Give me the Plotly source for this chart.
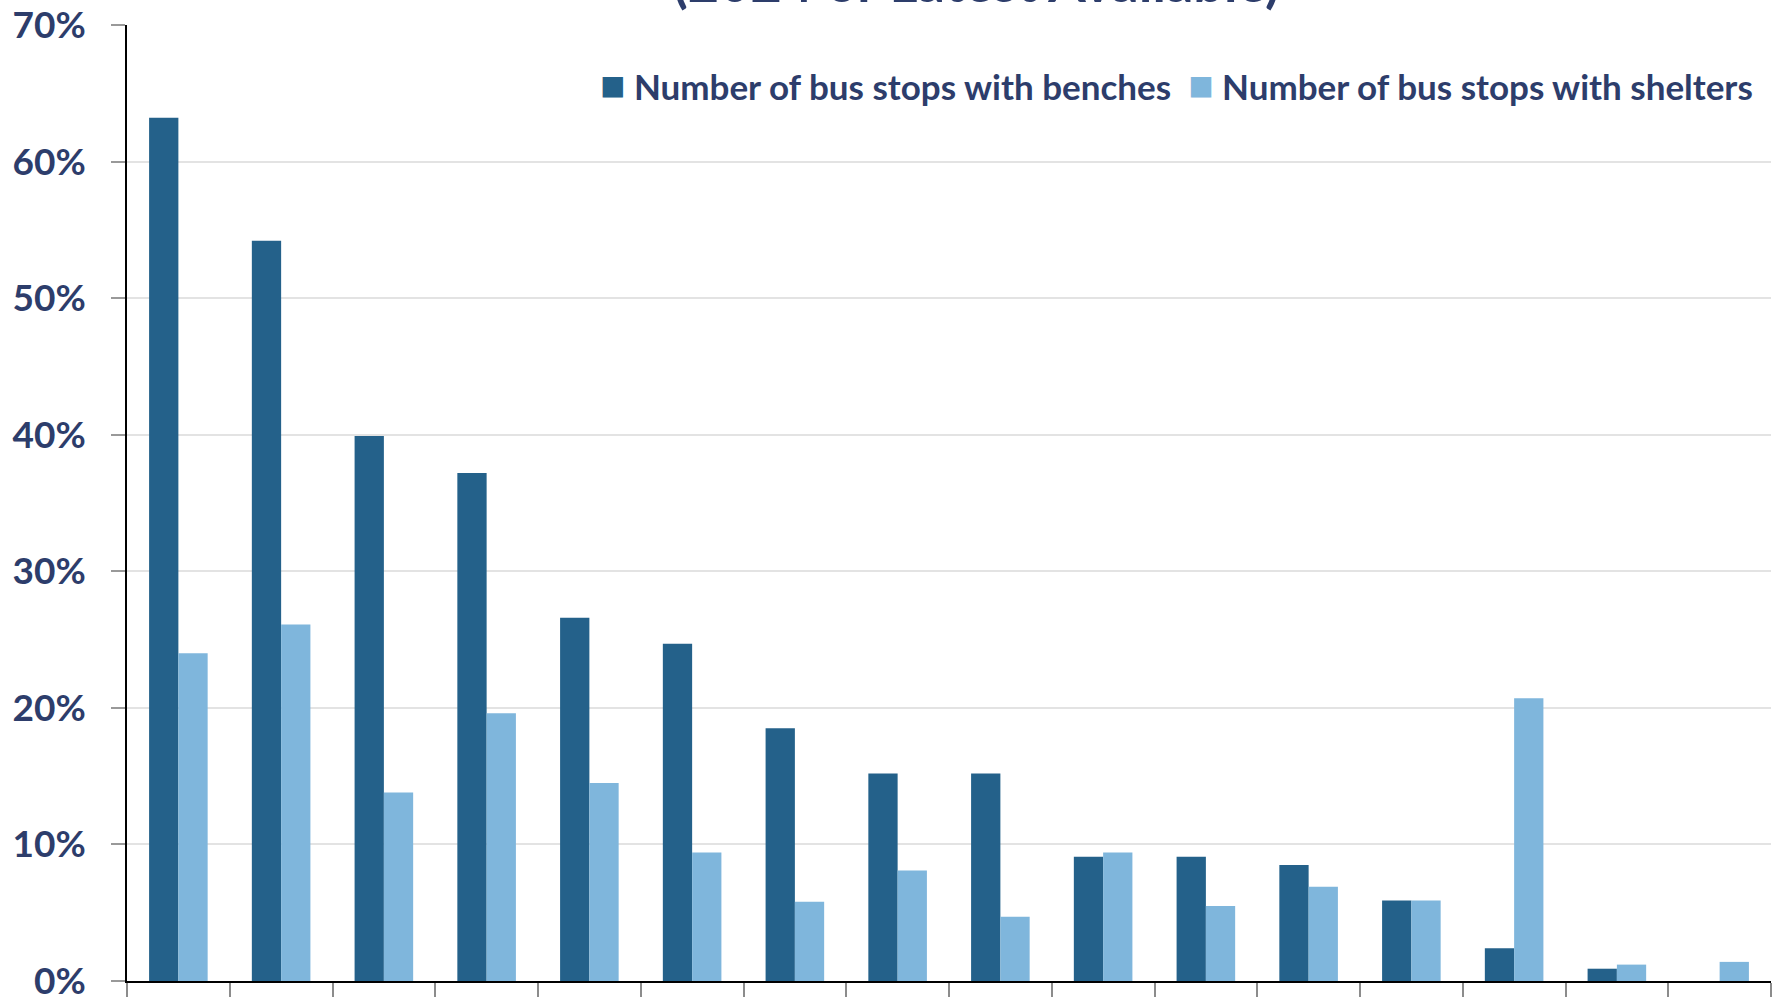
import plotly.graph_objects as go

# Share of bus stops with amenities, by jurisdiction (2024 or latest available)
categories = [str(i) for i in range(1, 17)]
benches = [0.632, 0.542, 0.399, 0.372, 0.266, 0.247, 0.185, 0.152, 0.152, 0.091, 0.091, 0.085, 0.059, 0.024, 0.009, 0.0]
shelters = [0.240, 0.261, 0.138, 0.196, 0.145, 0.094, 0.058, 0.081, 0.047, 0.094, 0.055, 0.069, 0.059, 0.207, 0.012, 0.014]
y_ticks = [0, 0.1, 0.2, 0.3, 0.4, 0.5, 0.6, 0.7]
series_names = ["Number of bus stops with benches", "Number of bus stops with shelters"]

DARK = "#24618A"
LIGHT = "#7FB6DC"
TEXT = "#2D3D6B"
FONT = "Lato"

fig = go.Figure()
fig.add_trace(go.Bar(
    x=categories, y=benches, name=series_names[0], showlegend=False,
    marker=dict(color=DARK, line=dict(width=0)),
))
fig.add_trace(go.Bar(
    x=categories, y=shelters, name=series_names[1], showlegend=False,
    marker=dict(color=LIGHT, line=dict(width=0)),
))

# Legend row: a coloured square glyph in front of each series name
legend_text = (
    f'<span style="color:{DARK};font-size:42px">■</span> {series_names[0]}'
    f'  <span style="color:{LIGHT};font-size:42px">■</span> {series_names[1]}'
)

fig.update_layout(
    width=1781, height=997,
    margin=dict(l=127, r=10, t=25, b=16),
    paper_bgcolor="white", plot_bgcolor="white",
    barmode="group", bargap=0.43, bargroupgap=0,
    font=dict(family=FONT, color=TEXT),
    annotations=[
        dict(
            text="<b>(2024 or Latest Available)</b>", xref="paper", yref="paper",
            x=0.517, y=1.0095, xanchor="center", yanchor="bottom", showarrow=False,
            font=dict(family=FONT, size=54, color=TEXT),
        ),
        dict(
            text=f"<b>{legend_text}</b>", xref="paper", yref="paper",
            x=0.9905, y=0.938, xanchor="right", yanchor="middle", showarrow=False,
            font=dict(family=FONT, size=35, color=TEXT),
        ),
    ],
)

fig.update_xaxes(
    type="category", showticklabels=False, tickson="boundaries", automargin=False,
    ticks="outside", ticklen=20, tickcolor="#8C8C8C", tickwidth=2,
    showline=True, linecolor="black", linewidth=2, showgrid=False,
)
fig.update_yaxes(
    range=[0, 0.7], tickvals=y_ticks, tickformat=".0%", automargin=False,
    ticks="outside", ticklen=14, tickcolor="#999999", tickwidth=2,
    ticklabelstandoff=18, ticklabeloverflow="allow",
    tickfont=dict(family=FONT, size=37, color=TEXT, weight="bold"),
    showline=True, linecolor="black", linewidth=1.5,
    showgrid=True, gridcolor="#E3E3E3", gridwidth=2, zeroline=False,
)

fig.write_html("out.html")
